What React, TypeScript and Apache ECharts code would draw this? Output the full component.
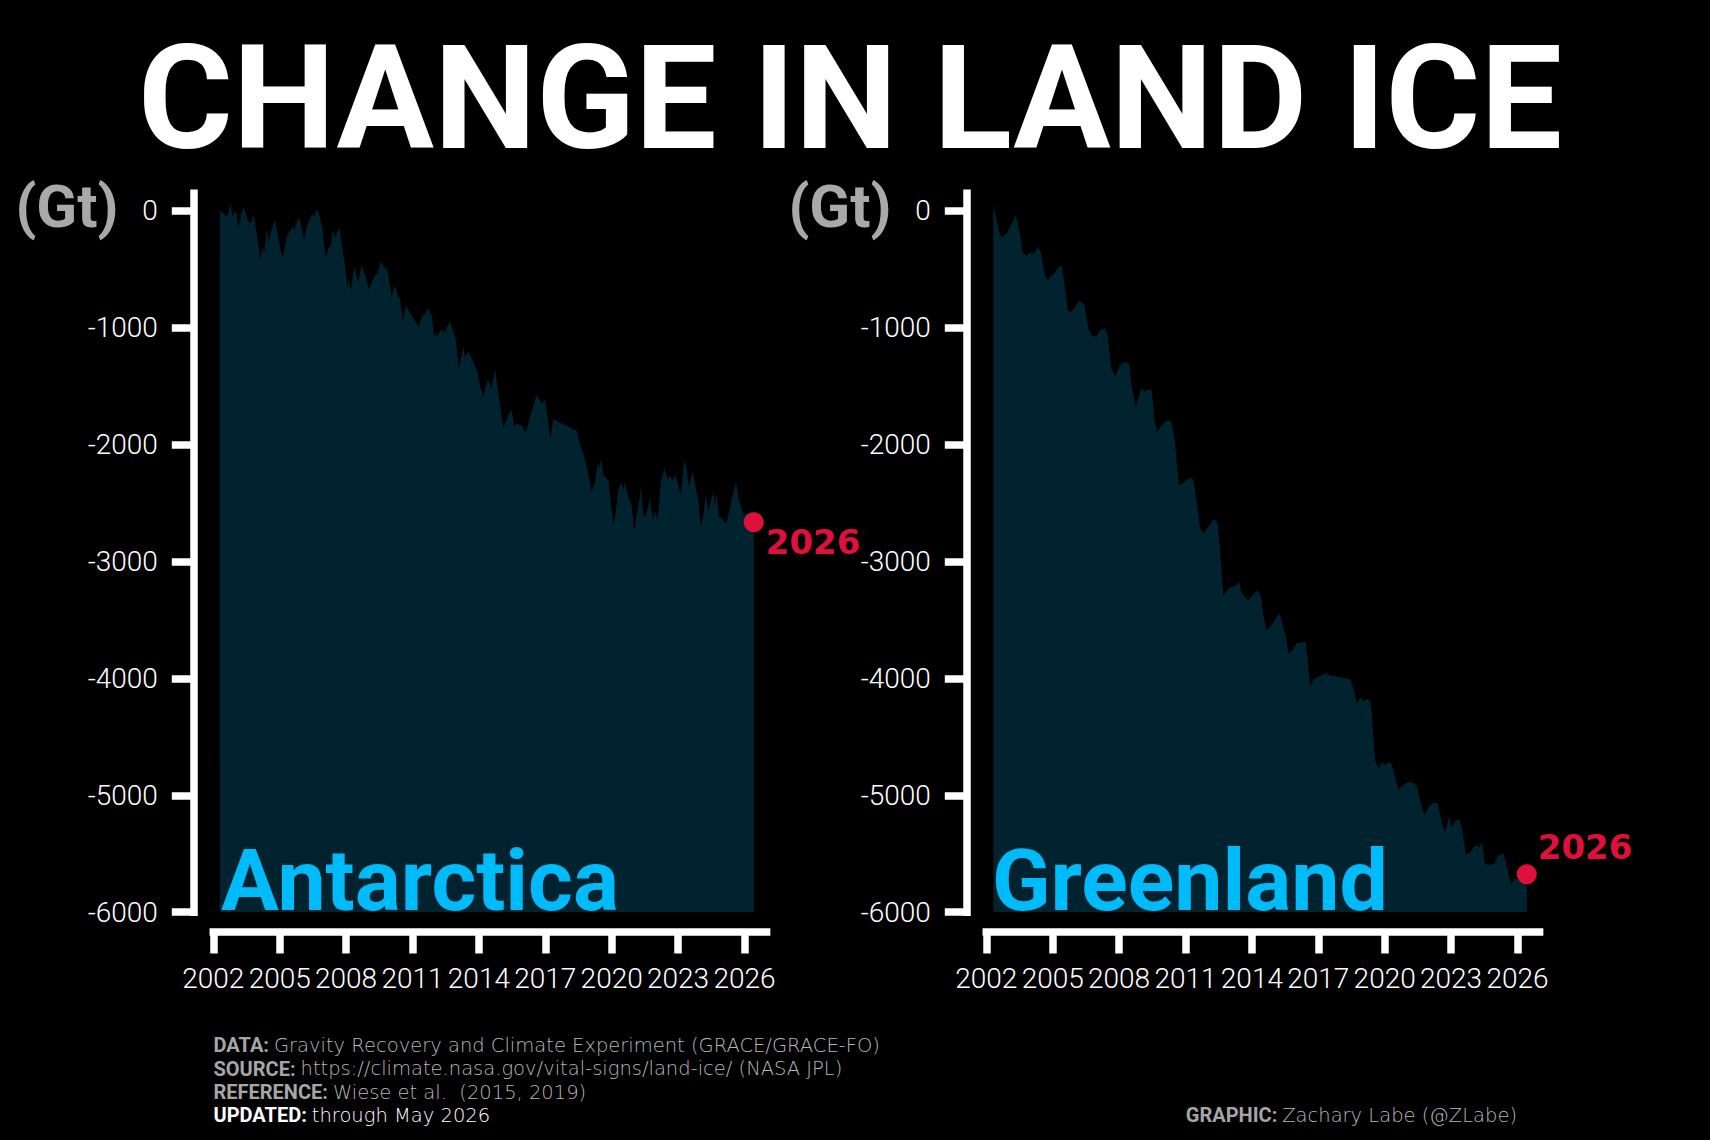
import React, { useEffect, useRef } from 'react';
import * as echarts from 'echarts';

// ---------- DATA ----------
const antarcticaYears = [
  2002.30, 2002.65, 2002.77, 2002.86, 2003.03, 2003.13, 2003.36, 2003.58, 2003.70, 2003.82,
  2003.96, 2004.14, 2004.21, 2004.31, 2004.41, 2004.49, 2004.64, 2004.79, 2005.13, 2005.32,
  2005.58, 2005.66, 2005.87, 2006.11, 2006.22, 2006.44, 2006.57, 2006.67, 2006.82, 2006.92,
  2007.08, 2007.23, 2007.32, 2007.38, 2007.50, 2007.70, 2007.88, 2007.95, 2008.07, 2008.13,
  2008.21, 2008.37, 2008.55, 2008.70, 2008.85, 2009.03, 2009.23, 2009.43, 2009.56, 2009.68,
  2009.79, 2009.86, 2010.06, 2010.21, 2010.36, 2010.44, 2010.56, 2010.71, 2010.89, 2011.09,
  2011.29, 2011.42, 2011.57, 2011.72, 2011.87, 2011.99, 2012.05, 2012.12, 2012.29, 2012.44,
  2012.69, 2012.95, 2013.10, 2013.30, 2013.37, 2013.52, 2013.72, 2013.94, 2014.08, 2014.20,
  2014.40, 2014.58, 2014.73, 2014.88, 2015.11, 2015.33, 2015.48, 2015.60, 2015.71, 2015.96,
  2016.11, 2016.31, 2016.61, 2016.84, 2016.99, 2017.23, 2017.36, 2018.42, 2018.57, 2018.79,
  2019.10, 2019.25, 2019.37, 2019.43, 2019.52, 2019.62, 2019.85, 2020.07, 2020.15, 2020.30,
  2020.42, 2020.53, 2020.60, 2020.75, 2020.90, 2021.02, 2021.13, 2021.23, 2021.32, 2021.43,
  2021.51, 2021.63, 2021.73, 2021.81, 2021.88, 2021.96, 2022.08, 2022.23, 2022.38, 2022.53,
  2022.64, 2022.74, 2022.89, 2023.12, 2023.28, 2023.39, 2023.49, 2023.66, 2023.76, 2023.91,
  2024.03, 2024.14, 2024.25, 2024.37, 2024.49, 2024.59, 2024.67, 2024.74, 2024.85, 2024.97,
  2025.09, 2025.19, 2025.31, 2025.45, 2025.62, 2025.72, 2025.95, 2026.17, 2026.42,
];
const antarcticaValues = [
  0, -50, 69, -50, 0, -141, 35, -93, -99, -30,
  -193, -427, -312, -349, -150, -264, -159, -84, -412, -221,
  -136, -159, -50, -250, -136, -36, -44, 21, -64, -136,
  -407, -312, -301, -159, -221, -141, -392, -464, -663, -586,
  -683, -472, -615, -464, -541, -672, -578, -529, -435, -472,
  -492, -498, -735, -635, -740, -757, -939, -806, -877, -939,
  -991, -905, -883, -834, -905, -1091, -1048, -1077, -1014, -1043,
  -942, -1099, -1348, -1162, -1248, -1205, -1276, -1385, -1518, -1590,
  -1442, -1519, -1356, -1561, -1861, -1747, -1704, -1846, -1824, -1841,
  -1904, -1767, -1576, -1653, -1613, -1955, -1784, -1881, -2003, -2117,
  -2402, -2317, -2160, -2203, -2117, -2260, -2303, -2673, -2630, -2388,
  -2325, -2388, -2325, -2445, -2516, -2745, -2602, -2502, -2365, -2602,
  -2616, -2545, -2459, -2573, -2645, -2573, -2645, -2317, -2203, -2303,
  -2260, -2308, -2260, -2431, -2131, -2217, -2360, -2231, -2331, -2474,
  -2702, -2602, -2431, -2573, -2474, -2402, -2516, -2411, -2616, -2630,
  -2659, -2673, -2573, -2445, -2317, -2445, -2602, -2582, -2665,
];

const greenlandYears = [
  2002.32, 2002.62, 2002.72, 2002.92, 2003.07, 2003.34, 2003.52, 2003.64, 2003.82, 2003.97,
  2004.17, 2004.31, 2004.46, 2004.65, 2004.80, 2004.92, 2005.10, 2005.25, 2005.40, 2005.51,
  2005.68, 2005.86, 2006.01, 2006.20, 2006.43, 2006.61, 2006.76, 2006.96, 2007.14, 2007.36,
  2007.49, 2007.63, 2007.82, 2008.04, 2008.24, 2008.45, 2008.57, 2008.75, 2009.02, 2009.14,
  2009.35, 2009.47, 2009.62, 2009.74, 2009.92, 2010.15, 2010.34, 2010.50, 2010.71, 2010.98,
  2011.20, 2011.36, 2011.51, 2011.66, 2011.81, 2012.03, 2012.26, 2012.44, 2012.56, 2012.71,
  2012.91, 2013.09, 2013.27, 2013.42, 2013.54, 2013.84, 2014.06, 2014.26, 2014.41, 2014.52,
  2014.67, 2014.89, 2015.08, 2015.27, 2015.42, 2015.53, 2015.65, 2015.87, 2016.02, 2016.25,
  2016.43, 2016.52, 2016.63, 2016.78, 2016.93, 2017.03, 2017.15, 2017.33, 2017.46, 2018.43,
  2018.59, 2018.74, 2018.93, 2019.04, 2019.19, 2019.34, 2019.41, 2019.56, 2019.71, 2019.89,
  2020.02, 2020.24, 2020.39, 2020.62, 2020.77, 2020.95, 2021.10, 2021.25, 2021.45, 2021.60,
  2021.79, 2022.00, 2022.20, 2022.40, 2022.50, 2022.70, 2022.80, 2022.92, 2023.03, 2023.18,
  2023.37, 2023.51, 2023.66, 2023.85, 2024.00, 2024.11, 2024.26, 2024.41, 2024.53, 2024.68,
  2024.95, 2025.11, 2025.36, 2025.47, 2025.59, 2025.71, 2025.81, 2025.89, 2026.04, 2026.27,
  2026.42,
];
const greenlandValues = [
  50, -207, -227, -193, -141, -36, -193, -358, -384, -358,
  -369, -307, -349, -558, -598, -558, -535, -484, -464, -592,
  -854, -863, -820, -769, -797, -1005, -1062, -1082, -1019, -1005,
  -1071, -1333, -1419, -1319, -1290, -1310, -1504, -1675, -1518, -1547,
  -1527, -1533, -1818, -1889, -1832, -1795, -1795, -1946, -2345, -2317,
  -2280, -2303, -2488, -2716, -2759, -2702, -2639, -2659, -2901, -3300,
  -3238, -3215, -3209, -3172, -3272, -3334, -3277, -3249, -3300, -3470,
  -3585, -3543, -3486, -3449, -3571, -3628, -3791, -3751, -3700, -3694,
  -3685, -3842, -4070, -4013, -3990, -3985, -3970, -3956, -3970, -4008,
  -4085, -4213, -4162, -4199, -4179, -4185, -4284, -4698, -4769, -4720,
  -4740, -4712, -4777, -4954, -4926, -4897, -4883, -4892, -4920, -5040,
  -5168, -5097, -5063, -5068, -5168, -5311, -5268, -5182, -5268, -5225,
  -5205, -5296, -5510, -5490, -5453, -5425, -5445, -5410, -5587, -5596,
  -5587, -5524, -5496, -5567, -5667, -5758, -5730, -5710, -5724, -5681,
  -5676,
];

const yearTicks = [2002, 2005, 2008, 2011, 2014, 2017, 2020, 2023, 2026];
const gtTicks = [-6000, -5000, -4000, -3000, -2000, -1000, 0];
const latestYear = 2026.42;
const latestLabel = '2026';
const panelNames = ['Antarctica', 'Greenland'];
const titleText = 'CHANGE IN LAND ICE';
const unitText = '(Gt)';
const footerLines = [
  ['DATA: ', 'Gravity Recovery and Climate Experiment (GRACE/GRACE-FO)'],
  ['SOURCE: ', 'https://climate.nasa.gov/vital-signs/land-ice/ (NASA JPL)'],
  ['REFERENCE: ', 'Wiese et al.  (2015, 2019)'],
  ['UPDATED: ', 'through May 2026'],
];
const creditLine = ['GRAPHIC: ', 'Zachary Labe (@ZLabe)'];

// ---------- STYLE / LAYOUT ----------
const FONT = 'Roboto, "Noto Sans", "DejaVu Sans", sans-serif';
const FOOT_FONT = '"DejaVu Sans", Roboto, sans-serif';
const AREA = '#01232F';
const RED = '#E0103C';
const CYAN = '#00BBF9';
const GRAY = '#a9a9a9';
const GRID_W = 553.3;
const GRID_TOP = 193.3;
const GRID_H = 718.9;
const GRID_LEFTS = [213.3, 986.3];

export default function App() {
  const ref = useRef<HTMLDivElement>(null);

  useEffect(() => {
    document.body.style.margin = '0';
    document.body.style.background = '#000';
    const chart = echarts.init(ref.current as HTMLDivElement, null, { renderer: 'svg' });

    const axisLineStyle = { color: '#fff', width: 7.5, cap: 'square' as const };
    const tickStyle = { color: '#fff', width: 7.5 };

    const xAxes = [0, 1].map((i) => ({
      type: 'value' as const,
      gridIndex: i,
      position: 'bottom' as const,
      min: 2002,
      max: 2027,
      offset: 19.8,
      splitLine: { show: false },
      axisLine: { show: true, onZero: false, lineStyle: axisLineStyle },
      axisTick: { show: true, length: 21.5, lineStyle: tickStyle, customValues: yearTicks },
      axisLabel: {
        show: true,
        customValues: yearTicks,
        formatter: (v: number) => String(v),
        color: '#fff',
        fontFamily: FONT,
        fontWeight: 300,
        fontSize: 28,
        margin: 32,
      },
    }));

    const yAxes = [0, 1].map((i) => ({
      type: 'value' as const,
      gridIndex: i,
      position: 'left' as const,
      min: -6000,
      max: 150,
      offset: 19.5,
      splitLine: { show: false },
      axisLine: { show: true, onZero: false, lineStyle: axisLineStyle },
      axisTick: { show: true, length: 22, lineStyle: tickStyle, customValues: gtTicks },
      axisLabel: {
        show: true,
        customValues: gtTicks,
        formatter: (v: number) => String(v),
        color: '#fff',
        fontFamily: FONT,
        fontWeight: 300,
        fontSize: 28,
        margin: 36,
      },
    }));

    const datasets = [
      { years: antarcticaYears, values: antarcticaValues },
      { years: greenlandYears, values: greenlandValues },
    ];
    const labelPos = [
      [22, 30],
      [21, -17],
    ];

    const series: any[] = [];
    datasets.forEach((d, i) => {
      series.push({
        type: 'line',
        xAxisIndex: i,
        yAxisIndex: i,
        data: d.years.map((y, k) => [y, d.values[k]]),
        showSymbol: false,
        silent: true,
        lineStyle: { width: 0, color: AREA },
        areaStyle: { color: AREA, opacity: 1, origin: 'start' },
        z: 2,
      });
      const lastVal = d.values[d.values.length - 1];
      series.push({
        type: 'scatter',
        xAxisIndex: i,
        yAxisIndex: i,
        data: [[latestYear, lastVal]],
        symbol: 'circle',
        symbolSize: 20,
        itemStyle: { color: RED, opacity: 1 },
        silent: true,
        z: 5,
        label: {
          show: true,
          formatter: latestLabel,
          position: labelPos[i],
          align: 'left',
          verticalAlign: 'middle',
          color: RED,
          opacity: 1,
          fontFamily: '"DejaVu Sans", sans-serif',
          fontWeight: 'bold',
          fontSize: 34,
        },
      });
    });

    const txt = (x: number, y: number, text: string, size: number, fill: string, weight: any, align: string, lh?: number) => ({
      type: 'text',
      x,
      y,
      silent: true,
      z: 10,
      style: {
        text,
        fill,
        fontSize: size,
        fontWeight: weight,
        fontFamily: FONT,
        lineHeight: lh,
        align,
        textAlign: align,
        verticalAlign: 'middle',
        textVerticalAlign: 'middle',
      },
    });

    const richLine = (x: number, y: number, parts: string[], boldColor: string, regColor: string, align: string) => ({
      type: 'text',
      x,
      y,
      silent: true,
      z: 10,
      style: {
        text: `{b|${parts[0]}}{r|${parts[1]}}`,
        align,
        textAlign: align,
        verticalAlign: 'middle',
        textVerticalAlign: 'middle',
        rich: {
          b: { fontFamily: FONT, fontWeight: 'bold', fontSize: 20, fill: boldColor, color: boldColor, lineHeight: 20 },
          r: { fontFamily: FOOT_FONT, fontWeight: 200, fontSize: 19.5, fill: regColor, color: regColor, lineHeight: 20 },
        },
      },
    });

    const footerYs = [1045, 1068.5, 1092, 1115];
    const graphics: any[] = [
      txt(850, 98.4, titleText, 145, '#fff', 'bold', 'center', 110),
      txt(67, 206, unitText, 60, GRAY, 'bold', 'center', 50),
      txt(840, 206, unitText, 60, GRAY, 'bold', 'center', 50),
      { ...txt(221, 880, panelNames[0], 86, CYAN, 'bold', 'left', 70), z: 8 },
      { ...txt(992, 880, panelNames[1], 86, CYAN, 'bold', 'left', 70), z: 8 },
      ...footerLines.map((p, k) =>
        richLine(213.5, footerYs[k], p, k === 3 ? '#fff' : '#a6a6a6', k === 3 ? '#fff' : '#b8b8b8', 'left')
      ),
      richLine(1517, 1115, creditLine, '#a6a6a6', '#b8b8b8', 'right'),
    ];

    chart.setOption({
      animation: false,
      backgroundColor: '#000',
      grid: GRID_LEFTS.map((l) => ({ left: l, top: GRID_TOP, width: GRID_W, height: GRID_H, containLabel: false })),
      xAxis: xAxes,
      yAxis: yAxes,
      series,
      graphic: { elements: graphics },
    });

    return () => chart.dispose();
  }, []);

  return <div ref={ref} style={{ width: 1710, height: 1140, background: '#000' }} />;
}
